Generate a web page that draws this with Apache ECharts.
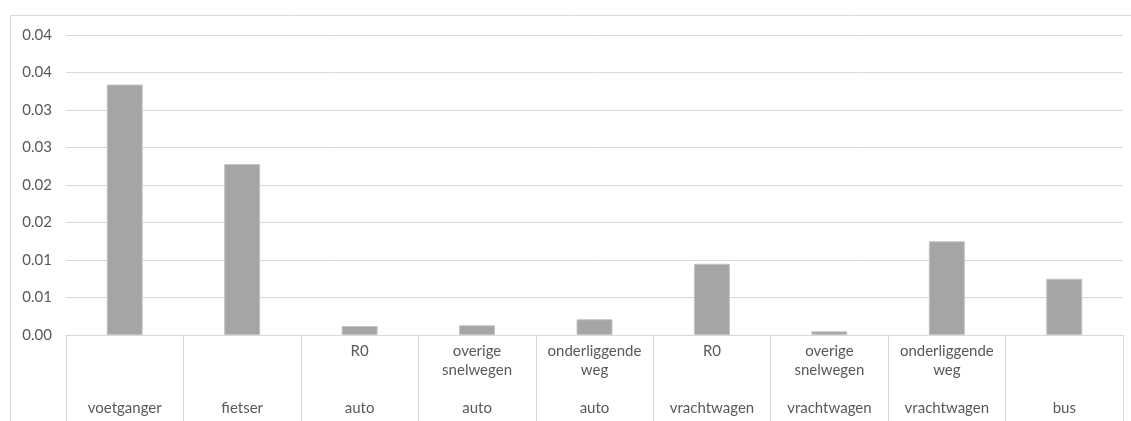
<!DOCTYPE html>
<html>
<head>
<meta charset="utf-8">
<script src="https://cdn.jsdelivr.net/npm/echarts@6/dist/echarts.min.js"></script>
<style>
  html, body { margin: 0; padding: 0; background: #fff; }
  #chart { width: 1131px; height: 421px; }
</style>
</head>
<body>
<div id="chart"></div>
<script>
// Road-user groups and their sub-types (empty where there is none)
const groups = ['voetganger', 'fietser', 'auto', 'auto', 'auto', 'vrachtwagen', 'vrachtwagen', 'vrachtwagen', 'bus'];
const subtypes = ['', '', 'R0', 'overige\nsnelwegen', 'onderliggende\nweg', 'R0', 'overige\nsnelwegen', 'onderliggende\nweg', ''];
const values = [0.0334, 0.0228, 0.0012, 0.0013, 0.0021, 0.0095, 0.0005, 0.0125, 0.0075];

// Two-row labels: sub-type on top (up to two lines), group on the fourth line
const categories = subtypes.map((s, i) => {
  const lines = s ? s.split('\n') : [];
  while (lines.length < 3) lines.push('');
  return lines.join('\n') + '\n' + groups[i];
});

const font = 'Lato, "Open Sans", sans-serif';
const chart = echarts.init(document.getElementById('chart'), null, { renderer: 'canvas' });

chart.setOption({
  animation: false,
  graphic: [{
    type: 'rect',
    shape: { x: 10.5, y: 15.5, width: 1130, height: 420 },
    style: { fill: 'none', stroke: '#d9d9d9', lineWidth: 1 },
    silent: true
  }],
  grid: { left: 66, right: 8, top: 35, bottom: 86, containLabel: false },
  xAxis: {
    type: 'category',
    data: categories,
    axisLine: { show: true, lineStyle: { color: '#d9d9d9', width: 1 } },
    axisTick: { show: true, interval: 0, length: 86, lineStyle: { color: '#d9d9d9', width: 1 } },
    axisLabel: {
      interval: 0,
      margin: 7,
      color: '#595959',
      fontFamily: font,
      fontSize: 15,
      lineHeight: 19,
      align: 'center',
      verticalAlign: 'top'
    },
    splitLine: { show: false }
  },
  yAxis: {
    type: 'value',
    min: 0,
    max: 0.04,
    interval: 0.005,
    axisLine: { show: false },
    axisTick: { show: false },
    axisLabel: {
      margin: 14,
      color: '#595959',
      fontFamily: font,
      fontSize: 15,
      formatter: v => (Math.round(v * 100 + 1e-6) / 100).toFixed(2)
    },
    splitLine: { lineStyle: { color: '#d9d9d9', width: 1 } }
  },
  series: [{
    type: 'bar',
    data: values,
    barWidth: 36,
    itemStyle: { color: '#a5a5a5', borderColor: '#c4c4c4', borderWidth: 1 }
  }]
});
</script>
</body>
</html>
